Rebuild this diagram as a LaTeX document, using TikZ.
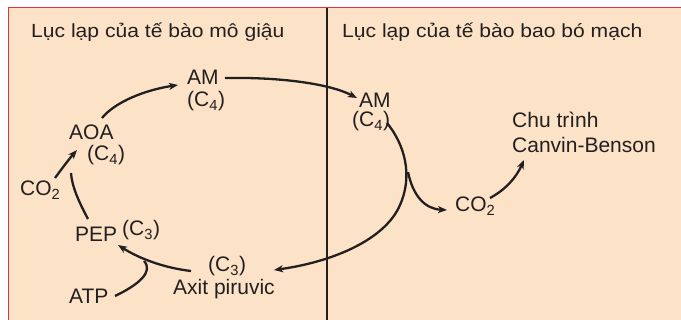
\documentclass[tikz,border=0pt]{standalone}
\usepackage{fontspec}
\setmainfont{Liberation Sans}
\newfontfamily\titlefont[FakeStretch=1.11]{Liberation Sans}
\usetikzlibrary{arrows.meta}
\definecolor{peach}{RGB}{252,227,200}
\definecolor{frame}{RGB}{228,52,56}
\definecolor{ink}{RGB}{35,31,32}
\tikzset{
  lbl/.style={anchor=base west, inner sep=0pt, text=ink, font=\fontsize{21}{24}\selectfont},
  ttl/.style={anchor=base west, inner sep=0pt, text=ink, font=\titlefont\fontsize{19}{22}\selectfont},
  conn/.style={draw=ink, line width=2.3pt},
  arr/.style={conn, -{Stealth[length=9pt,width=7pt,inset=2.5pt]}},
}
\begin{document}
\begin{tikzpicture}[x=1pt,y=-1pt]
\useasboundingbox (0,0) rectangle (681,320);
\fill[white] (0,0) rectangle (681,320);
\fill[peach] (8,7) rectangle (681,320);
\draw[frame, line width=1.5pt] (8.5,320) -- (8.5,7.5) -- (681,7.5);
\draw[ink, line width=1.8pt] (327,8.5) -- (327,320);

% titles
\node[ttl] (titleL) at (31,38) {Lục lạp của tế bào mô giậu};
\node[ttl] (titleR) at (342,38) {Lục lạp của tế bào bao bó mạch};

% left panel labels
\node[lbl] (amL) at (187,85) {AM};
\node[lbl] (amLc) at (187,107) {(C\textsubscript{4})};
\node[lbl] (aoa) at (69,140) {AOA};
\node[lbl] (aoac) at (87,161) {(C\textsubscript{4})};
\node[lbl] (co2L) at (20,196) {CO\textsubscript{2}};
\node[lbl] (pep) at (75,242) {PEP};
\node[lbl] (pepc) at (122,236) {(C\textsubscript{3})};
\node[lbl] (pyrc) at (208,272) {(C\textsubscript{3})};
\node[lbl] (pyr) at (173,295) {Axit piruvic};
\node[lbl] (atp) at (69,304) {ATP};

% right panel labels
\node[lbl] (amR) at (359,108) {AM};
\node[lbl] (amRc) at (352,127) {(C\textsubscript{4})};
\node[lbl] (co2R) at (455,212) {CO\textsubscript{2}};
\node[lbl] (cb1) at (512,128) {Chu trình};
\node[lbl] (cb2) at (512,153) {Canvin-Benson};

% connection points
\coordinate (aoaOut) at (102,118);
\coordinate (amLin) at (178,85);
\coordinate (amLout) at (225,78);
\coordinate (amRin) at (357,98);
\coordinate (co2Lout) at (55,178);
\coordinate (aoaIn) at (77,150);
\coordinate (pepOut) at (88,219);
\coordinate (pepJoin) at (71,173);
\coordinate (pyrOut) at (191,271);
\coordinate (pepIn) at (118,245);
\coordinate (atpOut) at (115,296);
\coordinate (atpJoin) at (144,261);
\coordinate (amRout) at (387,123);
\coordinate (split) at (408,172);
\coordinate (pyrIn) at (274,270);
\coordinate (co2Rin) at (447,210);
\coordinate (co2Rout) at (490,198);
\coordinate (cbIn) at (524,160);

% connectors
\draw[arr] (aoaOut) .. controls (115,102) and (145,90) .. (amLin);
\draw[arr] (amLout) .. controls (282,77) and (330,84) .. (amRin);
\draw[arr] (co2Lout) .. controls (63,167) and (70,158) .. (aoaIn);
\draw[conn] (pepOut) .. controls (79,202) and (72,187) .. (pepJoin);
\draw[arr] (pyrOut) .. controls (165,268) and (140,259) .. (pepIn);
\draw[conn] (atpOut) .. controls (138,285) and (154,272) .. (atpJoin);
\draw[arr] (amRout) .. controls (405,145) and (413,176) .. (400,205)
                    .. controls (385,240) and (332,262) .. (pyrIn);
\draw[arr] (split) .. controls (413,196) and (425,209) .. (co2Rin);
\draw[arr] (co2Rout) .. controls (505,190) and (516,178) .. (cbIn);
\end{tikzpicture}
\end{document}
